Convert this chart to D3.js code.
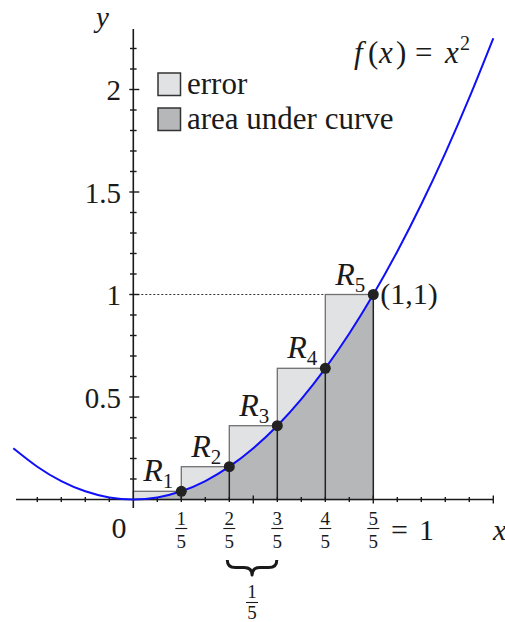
<!DOCTYPE html>
<html>
<head>
<meta charset="utf-8">
<script src="https://cdn.jsdelivr.net/npm/d3@7"></script>
<style>
body { margin: 0; background: #fff; }
svg { display: block; }
text { font-family: "Liberation Serif", "Times New Roman", serif; fill: #1a1a1a; }
</style>
</head>
<body>
<script>
// curve y = x^2, values read at every 0.1 on x
var curveX = [-0.5,-0.4,-0.3,-0.2,-0.1,0,0.1,0.2,0.3,0.4,0.5,0.6,0.7,0.8,0.9,1,1.1,1.2,1.3,1.4,1.5];
var curveY = [0.25,0.16,0.09,0.04,0.01,0,0.01,0.04,0.09,0.16,0.25,0.36,0.49,0.64,0.81,1,1.21,1.44,1.69,1.96,2.25];

// partition points and right-endpoint heights
var stepX = [0, 0.2, 0.4, 0.6, 0.8, 1];
var stepY = [0.04, 0.16, 0.36, 0.64, 1];
var rectNames = ["1", "2", "3", "4", "5"];

var yTickVals = [0.5, 1, 1.5, 2];
var yTickLabels = ["0.5", "1", "1.5", "2"];
var legendNames = ["error", "area under curve"];

var width = 505, height = 622;
var cLight = "#e1e2e4", cDark = "#b6b7b9", ink = "#1a1a1a";

var x = d3.scaleLinear().domain([-0.5, 1.5]).range([13.3, 493.3]);
var y = d3.scaleLinear().domain([0, 2.3]).range([499.5, 28]);

var svg = d3.select("body").append("svg").attr("width", width).attr("height", height);

// error rectangles
svg.selectAll(".err").data(stepY).enter().append("rect")
  .attr("x", function(d, i){ return x(stepX[i]); })
  .attr("y", function(d){ return y(d); })
  .attr("width", function(d, i){ return x(stepX[i + 1]) - x(stepX[i]); })
  .attr("height", function(d){ return y(0) - y(d); })
  .attr("fill", cLight).attr("stroke", "#707070").attr("stroke-width", 1.3);

var pts = curveX.map(function(d, i){ return [d, curveY[i]]; });
var under = pts.filter(function(p){ return p[0] >= 0 && p[0] <= 1; });

var area = d3.area()
  .x(function(d){ return x(d[0]); })
  .y0(y(0))
  .y1(function(d){ return y(d[1]); })
  .curve(d3.curveNatural);
svg.append("path").datum(under).attr("d", area).attr("fill", cDark);

svg.selectAll(".div").data(stepY).enter().append("line")
  .attr("x1", function(d, i){ return x(stepX[i + 1]); })
  .attr("x2", function(d, i){ return x(stepX[i + 1]); })
  .attr("y1", y(0)).attr("y2", function(d){ return y(d); })
  .attr("stroke", "#222").attr("stroke-width", 1.5);

// dotted guide at y = 1
svg.append("line")
  .attr("x1", x(0)).attr("x2", x(stepX[4]))
  .attr("y1", y(1)).attr("y2", y(1))
  .attr("stroke", "#333").attr("stroke-width", 1).attr("stroke-dasharray", "2,2");

// axes
var axes = svg.append("g").attr("stroke", ink);
axes.append("line").attr("x1", 16).attr("x2", x(1.5)).attr("y1", y(0)).attr("y2", y(0)).attr("stroke-width", 1.6);
axes.append("line").attr("x1", x(0)).attr("x2", x(0)).attr("y1", 29).attr("y2", 508).attr("stroke-width", 1.6);

function isMajor(v){ return Math.abs(v * 2 - Math.round(v * 2)) < 1e-9; }

var xt = x.ticks(20).filter(function(v){ return v > -0.49 && Math.abs(v) > 1e-9; });
axes.selectAll(".xt").data(xt).enter().append("line")
  .attr("x1", function(d){ return x(d); }).attr("x2", function(d){ return x(d); })
  .attr("y1", function(d){ return y(0) - (isMajor(d) ? 4 : 2.5); })
  .attr("y2", function(d){ return y(0) + (isMajor(d) ? 4 : 2.5); })
  .attr("stroke-width", 1.4);

var yt = y.ticks(23).filter(function(v){ return v > 0.05 && v < 2.25; });
axes.selectAll(".yt").data(yt).enter().append("line")
  .attr("y1", function(d){ return y(d); }).attr("y2", function(d){ return y(d); })
  .attr("x1", function(d){ return x(0) - (isMajor(d) ? 4 : 3.3); })
  .attr("x2", function(d){ return x(0) + (isMajor(d) ? 6 : 3.3); })
  .attr("stroke-width", 1.4);

// curve
var line = d3.line()
  .x(function(d){ return x(d[0]); })
  .y(function(d){ return y(d[1]); })
  .curve(d3.curveNatural);
svg.append("path").datum(pts).attr("d", line)
  .attr("fill", "none").attr("stroke", "#1010f8").attr("stroke-width", 2);

// sample points
svg.selectAll(".pt").data(stepY).enter().append("circle")
  .attr("cx", function(d, i){ return x(stepX[i + 1]); })
  .attr("cy", function(d){ return y(d); })
  .attr("r", 5.5).attr("fill", "#222");

// y tick labels
svg.selectAll(".yl").data(yTickVals).enter().append("text")
  .attr("x", 121).attr("y", function(d){ return y(d) + 10.5; })
  .attr("text-anchor", "end").style("font-size", "29px")
  .text(function(d, i){ return yTickLabels[i]; });

// x fraction labels
var fr = svg.selectAll(".fr").data(stepX.slice(1)).enter().append("g")
  .attr("transform", function(d){ return "translate(" + x(d) + ",0)"; });
fr.append("text").attr("y", 525).attr("text-anchor", "middle").style("font-size", "19px")
  .text(function(d, i){ return rectNames[i]; });
fr.append("line").attr("x1", -6).attr("x2", 6).attr("y1", 528.5).attr("y2", 528.5)
  .attr("stroke", ink).attr("stroke-width", 1.1);
fr.append("text").attr("y", 548).attr("text-anchor", "middle").style("font-size", "19px").text("5");

svg.append("text").attr("x", 391).attr("y", 540).style("font-size", "30px").text("=");
svg.append("text").attr("x", 419).attr("y", 540).style("font-size", "30px").text("1");
svg.append("text").attr("x", 119).attr("y", 538).attr("text-anchor", "middle").style("font-size", "30px").text("0");
svg.append("text").attr("x", 493).attr("y", 540).style("font-size", "30px").style("font-style", "italic").text("x");
svg.append("text").attr("x", 96).attr("y", 27).style("font-size", "29px").style("font-style", "italic").text("y");

// brace under [2/5, 3/5]
var bx0 = x(stepX[2]) - 2, bx1 = x(stepX[3]) - 0.5, bm = (bx0 + bx1) / 2, by = 560, bh = 15;
svg.append("path")
  .attr("d", "M" + bx0 + "," + by +
    " Q" + bx0 + "," + (by + bh / 2) + " " + (bx0 + 8) + "," + (by + bh / 2) +
    " L" + (bm - 8) + "," + (by + bh / 2) +
    " Q" + bm + "," + (by + bh / 2) + " " + bm + "," + (by + bh) +
    " Q" + bm + "," + (by + bh / 2) + " " + (bm + 8) + "," + (by + bh / 2) +
    " L" + (bx1 - 8) + "," + (by + bh / 2) +
    " Q" + bx1 + "," + (by + bh / 2) + " " + bx1 + "," + by)
  .attr("fill", "none").attr("stroke", ink).attr("stroke-width", 3).attr("stroke-linejoin", "round");
svg.append("text").attr("x", bm).attr("y", 598).attr("text-anchor", "middle").style("font-size", "19px").text("1");
svg.append("line").attr("x1", bm - 6).attr("x2", bm + 6).attr("y1", 602.5).attr("y2", 602.5)
  .attr("stroke", ink).attr("stroke-width", 1.1);
svg.append("text").attr("x", bm).attr("y", 619).attr("text-anchor", "middle").style("font-size", "19px").text("5");

// R labels
var rl = svg.selectAll(".rl").data(stepY).enter().append("text")
  .attr("x", function(d, i){ return x(stepX[i]) + 10; })
  .attr("y", function(d){ return y(d) - 10; })
  .style("font-size", "32px");
rl.append("tspan").style("font-style", "italic").text("R");
rl.append("tspan").attr("dy", 7).style("font-size", "21px").text(function(d, i){ return rectNames[i]; });

svg.append("text").attr("x", x(1) + 7).attr("y", y(1) + 9).style("font-size", "30px").text("(1,1)");

// formula
var fx = svg.append("text").attr("y", 63).style("font-size", "31px");
fx.append("tspan").attr("x", 354).style("font-style", "italic").text("f");
fx.append("tspan").attr("x", 368).text("(");
fx.append("tspan").attr("x", 379).style("font-style", "italic").text("x");
fx.append("tspan").attr("x", 396).text(")");
fx.append("tspan").attr("x", 415).text("=");
fx.append("tspan").attr("x", 445).style("font-style", "italic").text("x");
fx.append("tspan").attr("x", 460).attr("dy", -13).style("font-size", "20px").text("2");

// legend
var lg = svg.selectAll(".lg").data(legendNames).enter().append("g")
  .attr("transform", function(d, i){ return "translate(158," + (73 + i * 35) + ")"; });
lg.append("rect").attr("width", 22.5).attr("height", 22.5)
  .attr("fill", function(d, i){ return i === 0 ? cLight : cDark; })
  .attr("stroke", "#333").attr("stroke-width", 1.5);
lg.append("text").attr("x", 29).attr("y", 20.5).style("font-size", "31px").text(function(d){ return d; });
</script>
</body>
</html>
